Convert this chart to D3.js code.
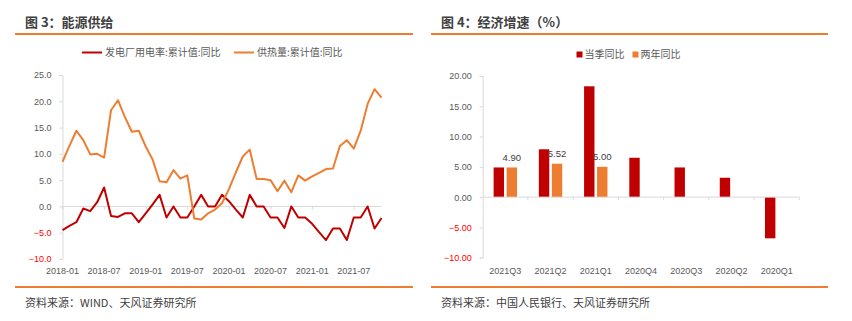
<!DOCTYPE html>
<html><head><meta charset="utf-8">
<script src="https://cdn.jsdelivr.net/npm/d3@7"></script>
<style>
html,body{margin:0;padding:0;background:#fff;}
svg{display:block;font-family:"Liberation Sans","Noto Sans CJK SC",sans-serif;}
</style></head>
<body>
<svg id="c" width="852" height="321"></svg>
<script>
// ---------- data: left chart ----------
const months = ["2018-01","2018-02","2018-03","2018-04","2018-05","2018-06","2018-07","2018-08","2018-09","2018-10","2018-11","2018-12",
"2019-01","2019-02","2019-03","2019-04","2019-05","2019-06","2019-07","2019-08","2019-09","2019-10","2019-11","2019-12",
"2020-01","2020-02","2020-03","2020-04","2020-05","2020-06","2020-07","2020-08","2020-09","2020-10","2020-11","2020-12",
"2021-01","2021-02","2021-03","2021-04","2021-05","2021-06","2021-07","2021-08","2021-09","2021-10","2021-11"];
const powerUse = [-4.5,-3.7,-3.0,-0.4,-0.9,0.8,3.6,-1.8,-2.0,-1.3,-1.3,-3.0,
-1.3,0.4,2.2,-2.1,0.0,-2.1,-2.1,0.0,2.2,0.0,0.0,2.2,
1.0,-0.6,-2.1,2.2,0.0,0.0,-2.1,-2.1,-4.1,0.0,-2.1,-2.1,
-3.3,-4.9,-6.4,-4.2,-4.2,-6.4,-2.1,-2.1,0.0,-4.2,-2.2];
const heatSupply = [8.5,11.5,14.4,12.6,9.9,10.0,9.3,18.3,20.2,17.0,14.2,14.4,
11.4,8.9,4.8,4.6,6.9,5.3,5.9,-2.3,-2.5,-1.3,-0.6,0.6,
3.3,6.5,9.5,10.8,5.2,5.2,5.0,2.9,4.9,2.7,5.9,4.9,
5.7,6.4,7.1,7.2,11.5,12.6,11.0,14.4,19.5,22.3,20.7];
const leftSeries = ["发电厂用电率:累计值:同比","供热量:累计值:同比"];
const leftTicks = [-10,-5,0,5,10,15,20,25];
const leftXLabels = ["2018-01","2018-07","2019-01","2019-07","2020-01","2020-07","2021-01","2021-07"];

// ---------- data: right chart ----------
const quarters = ["2021Q3","2021Q2","2021Q1","2020Q4","2020Q3","2020Q2","2020Q1"];
const yoyQ = [4.9,7.9,18.3,6.5,4.9,3.2,-6.8];
const twoYear = [4.90,5.52,5.00,null,null,null,null];
const rightSeries = ["当季同比","两年同比"];
const rightTicks = [-10,-5,0,5,10,15,20];

const RED = "#C00000", ORANGE = "#ED7D31", TXT = "#595959", DARK = "#404040", GRID = "#D9D9D9";
const svg = d3.select("#c");

// ---------- frames ----------
function frame(x0, x1, title, source) {
  svg.append("text").attr("x", x0 + 10).attr("y", 27).attr("font-size", 13).attr("font-weight", "bold")
    .attr("fill", DARK).attr("font-family", "'Noto Sans CJK SC',sans-serif").text(title);
  svg.append("rect").attr("x", x0).attr("y", 33).attr("width", x1 - x0).attr("height", 2).attr("fill", ORANGE);
  svg.append("rect").attr("x", x0).attr("y", 286).attr("width", x1 - x0).attr("height", 2).attr("fill", ORANGE);
  svg.append("text").attr("x", x0 + 10).attr("y", 306.5).attr("font-size", 11).attr("fill", DARK)
    .attr("font-family", "'Noto Sans CJK SC',sans-serif").text(source);
}
frame(15, 413, "图 3：能源供给", "资料来源：WIND、天风证券研究所");
frame(431, 828, "图 4：经济增速（%）", "资料来源：中国人民银行、天风证券研究所");

// ---------- left chart ----------
{
  const x = d3.scalePoint().domain(months).range([62.5, 381.5]);
  const y = d3.scaleLinear().domain([-10, 25]).range([259, 75]);
  const g = svg.append("g");
  // y axis
  const ya = g.append("g").attr("transform", "translate(62.5,0)")
    .call(d3.axisLeft(y).tickValues(leftTicks).tickSize(3).tickPadding(8).tickFormat(d3.format(".1f")));
  ya.select(".domain").attr("stroke", GRID);
  ya.selectAll(".tick line").attr("stroke", GRID);
  ya.selectAll(".tick text").attr("font-size", 9).attr("font-family", "'Liberation Sans',sans-serif")
    .attr("fill", d => d < 0 ? "#FF0000" : TXT);
  // zero axis with ticks
  const xa = g.append("g").attr("transform", `translate(0,${y(0)})`)
    .call(d3.axisBottom(x).tickValues(leftXLabels).tickSize(3).tickFormat(""));
  xa.select(".domain").attr("stroke", GRID).attr("d", `M62.5,0H381.5`);
  xa.selectAll(".tick line").attr("stroke", GRID);
  // x labels at bottom
  g.selectAll(".xl").data(leftXLabels).enter().append("text")
    .attr("x", d => x(d)).attr("y", 274).attr("text-anchor", "middle")
    .attr("font-size", 9).attr("fill", TXT).attr("font-family", "'Liberation Sans',sans-serif").text(d => d);
  const line = d3.line().x((d, i) => x(months[i])).y(d => y(d));
  g.append("path").datum(powerUse).attr("d", line).attr("fill", "none").attr("stroke", RED).attr("stroke-width", 2).attr("stroke-linejoin", "round");
  g.append("path").datum(heatSupply).attr("d", line).attr("fill", "none").attr("stroke", ORANGE).attr("stroke-width", 2).attr("stroke-linejoin", "round");
  // legend
  const lg = [[82, RED], [234, ORANGE]];
  leftSeries.forEach((s, i) => {
    g.append("line").attr("x1", lg[i][0]).attr("x2", lg[i][0] + 20).attr("y1", 52.5).attr("y2", 52.5)
      .attr("stroke", lg[i][1]).attr("stroke-width", 2);
    g.append("text").attr("x", lg[i][0] + 23).attr("y", 56).attr("font-size", 10).attr("fill", TXT)
      .attr("font-family", "'Noto Sans CJK SC',sans-serif").text(s);
  });
}

// ---------- right chart ----------
{
  const x = d3.scaleBand().domain(quarters).range([482.7, 799.3]).padding(0);
  const inner = d3.scaleBand().domain(rightSeries).range([0, x.bandwidth()]).paddingInner(0.2).paddingOuter(0.84);
  const y = d3.scaleLinear().domain([-10, 20]).range([257.7, 76]);
  const g = svg.append("g");
  const ya = g.append("g").attr("transform", "translate(482.7,0)")
    .call(d3.axisLeft(y).tickValues(rightTicks).tickSize(3).tickPadding(8).tickFormat(d3.format(".2f")));
  ya.select(".domain").attr("stroke", GRID);
  ya.selectAll(".tick line").attr("stroke", GRID);
  ya.selectAll(".tick text").attr("font-size", 9).attr("font-family", "'Liberation Sans',sans-serif")
    .attr("fill", d => d < 0 ? "#FF0000" : TXT);
  // bars
  const vals = [yoyQ, twoYear];
  const cols = [RED, ORANGE];
  rightSeries.forEach((s, k) => {
    g.selectAll(".b" + k).data(quarters.map((q, i) => ({q, v: vals[k][i]})).filter(d => d.v != null))
      .enter().append("rect")
      .attr("x", d => x(d.q) + inner(s)).attr("width", inner.bandwidth())
      .attr("y", d => y(Math.max(0, d.v))).attr("height", d => Math.abs(y(d.v) - y(0)))
      .attr("fill", cols[k]);
  });
  // zero axis with ticks at band edges
  const edges = quarters.map(q => x(q)).concat([x.range()[1]]);
  g.append("line").attr("x1", 482.7).attr("x2", 799.3).attr("y1", y(0)).attr("y2", y(0)).attr("stroke", GRID);
  g.selectAll(".et").data(edges.slice(1)).enter().append("line")
    .attr("x1", d => d).attr("x2", d => d).attr("y1", y(0)).attr("y2", y(0) + 3).attr("stroke", GRID);
  // labels for two-year series
  g.selectAll(".lab").data(quarters.map((q, i) => ({q, v: twoYear[i]})).filter(d => d.v != null))
    .enter().append("text")
    .attr("x", d => x(d.q) + inner(rightSeries[1]) + inner.bandwidth() / 2).attr("y", d => y(d.v) - 6.5)
    .attr("text-anchor", "middle").attr("font-size", 9.5).attr("fill", DARK)
    .attr("font-family", "'Liberation Sans',sans-serif").text(d => d3.format(".2f")(d.v));
  // x labels
  g.selectAll(".xl").data(quarters).enter().append("text")
    .attr("x", d => x(d) + x.bandwidth() / 2).attr("y", 274).attr("text-anchor", "middle")
    .attr("font-size", 9).attr("fill", TXT).attr("font-family", "'Liberation Sans',sans-serif").text(d => d);
  // legend
  const lx = [576.5, 632.5];
  rightSeries.forEach((s, k) => {
    g.append("rect").attr("x", lx[k]).attr("y", 51.5).attr("width", 6).attr("height", 6).attr("fill", cols[k]);
    g.append("text").attr("x", lx[k] + 8).attr("y", 58).attr("font-size", 10).attr("fill", TXT)
      .attr("font-family", "'Noto Sans CJK SC',sans-serif").text(s);
  });
}
</script>
</body></html>
